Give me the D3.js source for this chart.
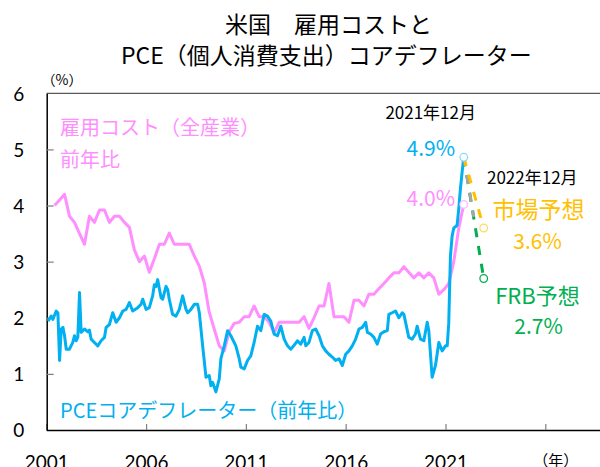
<!DOCTYPE html>
<html><head><meta charset="utf-8">
<script src="https://cdn.jsdelivr.net/npm/d3@7"></script>
<style>
html,body{margin:0;padding:0;background:#fff;}
svg{display:block;}
text{font-family:"Noto Sans CJK JP","Noto Sans",sans-serif;}
.tick text{font-family:Lato,"Noto Sans",sans-serif;}
</style></head>
<body><svg id="c" width="600" height="467"></svg>
<script>
// ---- data ----
const titleLines = ["米国　雇用コストと", "PCE（個人消費支出）コアデフレーター"];
const yTicks = [0, 1, 2, 3, 4, 5, 6];
const xTickYears = [2001, 2006, 2011, 2016, 2021, 2026];
const xTickLabels = ["2001", "2006", "2011", "2016", "2021", ""];

// ECI (employment cost, all industries) YoY, quarterly, 2001Q2 .. 2021Q4
const eciStart = "2001-06";
const eciValues = [4.0,4.1,4.2,3.81,3.70,3.5,3.31,3.81,3.70,3.92,
  3.92,3.70,3.81,3.81,3.7,3.61,3.21,3.0,3.1,2.81,
  3.05,3.31,3.31,3.51,3.31,3.31,3.31,3.31,3.1,2.92,
  2.62,2.1,1.80,1.50,1.41,1.75,1.90,1.92,2.02,2.02,
  2.21,2.02,2.02,1.92,1.73,1.92,1.92,1.92,1.92,1.92,
  2.02,1.81,2.0,2.21,2.21,2.61,2.02,2.02,2.02,1.92,
  2.31,2.31,2.21,2.42,2.42,2.52,2.61,2.71,2.80,2.80,
  2.91,2.81,2.71,2.80,2.71,2.80,2.71,2.42,2.5,2.61,
  3.0,3.6,4.02];

// PCE core deflator YoY, monthly vertices
const pceMonths = ["2001-02","2001-04","2001-05","2001-07","2001-08","2001-09","2001-10","2001-11","2001-12",
 "2002-01","2002-03","2002-05","2002-06","2002-07","2002-08","2002-09","2002-10","2002-12",
 "2003-02","2003-03","2003-04","2003-06","2003-08","2003-10","2003-12",
 "2004-01","2004-03","2004-05","2004-07","2004-09","2004-11",
 "2005-01","2005-03","2005-05","2005-08","2005-10","2005-11",
 "2006-01","2006-03","2006-05","2006-06","2006-07","2006-08","2006-10","2006-11",
 "2007-01","2007-02","2007-03","2007-05","2007-07","2007-09","2007-11",
 "2008-01","2008-02","2008-04","2008-06","2008-08","2008-09","2008-11",
 "2009-01","2009-03","2009-04","2009-05","2009-07","2009-09","2009-10","2009-12",
 "2010-02","2010-04","2010-07","2010-09","2010-10","2010-12",
 "2011-02","2011-04","2011-06","2011-08","2011-10","2011-12",
 "2012-02","2012-04","2012-06","2012-08","2012-10","2012-12",
 "2013-02","2013-04","2013-06","2013-08","2013-10","2013-12",
 "2014-01","2014-03","2014-05","2014-07","2014-09","2014-11",
 "2015-01","2015-03","2015-05","2015-07","2015-09","2015-11",
 "2016-01","2016-03","2016-05","2016-07","2016-09","2016-11",
 "2017-01","2017-02","2017-04","2017-06","2017-08","2017-10","2017-12",
 "2018-02","2018-03","2018-05","2018-07","2018-09","2018-11","2018-12",
 "2019-03","2019-05","2019-07","2019-08","2019-10","2019-12",
 "2020-02","2020-03","2020-05","2020-07","2020-09","2020-11",
 "2021-01","2021-02","2021-03","2021-04","2021-05","2021-06","2021-07","2021-08","2021-09","2021-10","2021-11","2021-12"];
const pceValues = [1.94,2.03,1.97,2.12,2.09,1.24,1.80,1.83,1.68,
 1.44,1.44,1.56,1.68,1.59,1.65,2.45,1.74,1.80,
 1.75,1.78,1.62,1.56,1.50,1.59,1.65,
 1.83,1.88,2.09,1.92,2.00,2.12,
 2.15,2.27,2.12,2.18,2.24,2.33,
 2.15,2.18,2.39,2.59,2.56,2.68,2.36,2.33,
 2.56,2.50,2.33,2.06,2.03,2.15,2.39,
 2.15,2.09,2.15,2.24,2.24,2.09,1.50,
 0.94,0.97,0.79,0.85,0.68,0.91,1.27,1.50,
 1.77,1.68,1.50,1.27,1.12,1.09,
 1.24,1.32,1.56,1.85,1.77,2.06,
 2.03,1.94,1.71,1.68,1.85,1.62,
 1.50,1.44,1.51,1.59,1.53,1.65,
 1.50,1.56,1.77,1.80,1.68,1.50,
 1.41,1.35,1.30,1.24,1.27,1.15,
 1.35,1.41,1.50,1.62,1.80,1.83,
 1.92,1.74,1.71,1.65,1.53,1.71,1.75,
 1.77,2.06,2.09,2.12,2.00,2.09,2.06,
 1.65,1.62,1.71,1.85,1.62,1.59,
 1.92,1.77,0.94,1.15,1.56,1.41,
 1.50,1.50,1.9,3.1,3.45,3.6,3.62,3.65,3.95,4.3,4.6,4.86];

// forecasts to 2022-12
const marketMonths = ["2021-12","2022-12"];
const marketValues = [4.86, 3.6];
const frbMonths = ["2021-12","2022-12"];
const frbValues = [4.86, 2.7];
const grayMonths = ["2021-12","2022-06"];
const grayValues = [4.86, 3.8];

// ---- drawing ----
const svg = d3.select("#c");
const parseM = d3.timeParse("%Y-%m");
const L = 46.7, T = 93.3, B = 430, R = 600;
const pxPerYear = 19.96;
const x = d3.scaleTime()
  .domain([new Date(2001,0,1), new Date(2031,0,1)])
  .range([46.3, 46.3 + 30*pxPerYear]);
const y = d3.scaleLinear().domain([0,6]).range([B, T]);

const pink = "#FF8FFF", blue = "#00B0F0", orange = "#FFC000", green = "#00B050", gray = "#A6A6A6";

svg.append("rect").attr("width",600).attr("height",467).attr("fill","#fff");

// title
svg.append("text").attr("x",225).attr("y",22.5).attr("dominant-baseline","central")
  .attr("font-size",23).attr("fill","#000").text(titleLines[0]);
svg.append("text").attr("x",121).attr("y",54).attr("dominant-baseline","central")
  .attr("font-size",23).attr("fill","#000").text(titleLines[1]);

svg.append("text").attr("x",62).attr("y",79).attr("text-anchor","middle")
  .attr("dominant-baseline","central").attr("font-size",14).text("（%）");

// clip
svg.append("clipPath").attr("id","clip").append("rect")
  .attr("x",L).attr("y",T-20).attr("width",R-L).attr("height",B-T+20);

// top border
svg.append("line").attr("x1",L).attr("x2",R).attr("y1",T).attr("y2",T)
  .attr("stroke","#595959").attr("stroke-width",1.3);

// x axis
const xAxis = d3.axisBottom(x)
  .tickValues(xTickYears.map(yr => new Date(yr,0,1)))
  .tickFormat((d,i) => xTickLabels[i])
  .tickSize(-6).tickSizeOuter(0).tickPadding(0);
const gx = svg.append("g").attr("transform",`translate(0,${B})`).call(xAxis);
gx.select(".domain").attr("stroke","#000").attr("stroke-width",1.5);
gx.selectAll(".tick line").attr("stroke","#7F7F7F").attr("stroke-width",1.2);
gx.selectAll(".tick text").attr("y",39).attr("dy",0).attr("font-size",19).attr("fill","#000");

svg.append("text").attr("x",555.7).attr("y",459).attr("text-anchor","middle")
  .attr("dominant-baseline","central").attr("font-size",15).text("（年）");

// y axis
const yAxis = d3.axisLeft(y).tickValues(yTicks).tickFormat(d3.format("d"))
  .tickSize(-7).tickSizeOuter(0).tickPadding(0);
const gy = svg.append("g").attr("transform",`translate(${L},0)`).call(yAxis);
gy.select(".domain").attr("stroke","#000").attr("stroke-width",1.5);
gy.selectAll(".tick line").attr("stroke","#7F7F7F").attr("stroke-width",1.2)
  .filter(d => d===0 || d===6).remove();
gy.selectAll(".tick text").attr("x",18.7-L).attr("text-anchor","middle")
  .attr("dy","0.36em").attr("font-size",19).attr("fill","#000");

// series
const eci = eciValues.map((v,i) => ({d: d3.timeMonth.offset(parseM(eciStart), 3*i), v}));
const pce = pceMonths.map((m,i) => ({d: parseM(m), v: pceValues[i]}));
const mk = (ms, vs) => ms.map((m,i) => ({d: parseM(m), v: vs[i]}));
const market = mk(marketMonths, marketValues);
const frb = mk(frbMonths, frbValues);
const grayL = mk(grayMonths, grayValues);

const line = d3.line().x(p => x(p.d)).y(p => y(p.v));
const gl = svg.append("g").attr("clip-path","url(#clip)");
gl.append("path").datum(eci).attr("d",line).attr("fill","none")
  .attr("stroke",pink).attr("stroke-width",3).attr("stroke-linejoin","round");
gl.append("path").datum(pce).attr("d",line).attr("fill","none")
  .attr("stroke",blue).attr("stroke-width",3).attr("stroke-linejoin","round");

const dash = "9,9";
gl.append("path").datum(frb).attr("d",line).attr("fill","none")
  .attr("stroke",green).attr("stroke-width",3).attr("stroke-dasharray",dash);
gl.append("path").datum(grayL).attr("d",line).attr("fill","none")
  .attr("stroke",gray).attr("stroke-width",3).attr("stroke-dasharray",dash);
gl.append("path").datum(market).attr("d",line).attr("fill","none")
  .attr("stroke",orange).attr("stroke-width",3).attr("stroke-dasharray",dash);

// end markers
const markers = [
  {p: pce[pce.length-1], c: "#8AD8F8"},
  {p: eci[eci.length-1], c: "#FFB8FF"},
  {p: market[1], c: "#FFD966"},
  {p: frb[1], c: green}
];
svg.selectAll("circle.m").data(markers).join("circle").attr("class","m")
  .attr("cx",m => x(m.p.d)).attr("cy",m => y(m.p.v)).attr("r",3.8)
  .attr("fill","#fff").attr("stroke",m => m.c).attr("stroke-width",1.3);

// annotations
const ann = (t, xx, yy, size, color, anchor) =>
  svg.append("text").attr("x",xx).attr("y",yy).attr("font-size",size)
    .attr("fill",color).attr("text-anchor",anchor||"start")
    .attr("dominant-baseline","central").text(t);
ann("雇用コスト（全産業）", 60, 126.7, 20, pink);
ann("前年比", 60, 158.3, 20, pink);
ann("PCEコアデフレーター（前年比）", 60, 409, 20, blue);
ann("2021年12月", 476, 111, 17, "#000", "end");
ann("4.9%", 455, 146.7, 21, blue, "end");
ann("4.0%", 455, 197, 21, pink, "end");
ann("2022年12月", 487, 176.7, 17, "#000");
ann("市場予想", 538.4, 208, 23, orange, "middle");
ann("3.6%", 537.5, 240, 21, orange, "middle");
ann("FRB予想", 537.5, 294, 22, green, "middle");
ann("2.7%", 538.5, 324.5, 21, green, "middle");
</script></body></html>
